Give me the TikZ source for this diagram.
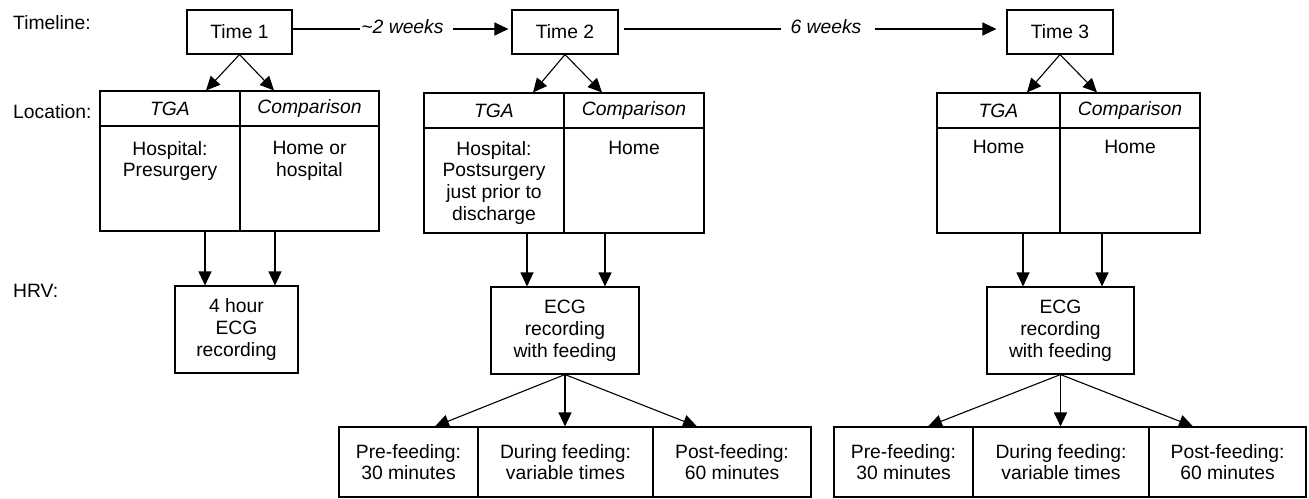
\documentclass[tikz,border=0pt]{standalone}
\usepackage{fontspec}
\setmainfont{Liberation Sans}
\usetikzlibrary{arrows.meta}
\newcommand\dfs{\fontsize{19.3pt}{21.8pt}\selectfont}
\tikzset{
  cell/.style={draw, line width=1.1pt, rectangle, inner sep=0pt, align=center, font=\dfs},
  txt/.style={inner sep=0pt, align=center, font=\dfs},
  arr/.style={line width=1.1pt, -{Triangle[length=14pt,width=13pt]}},
  ln/.style={line width=1.1pt},
}
\begin{document}
\begin{tikzpicture}[x=1pt,y=-1pt]
\useasboundingbox (0,0) rectangle (1309,498);
% row labels
\node[txt, anchor=base west] (lab1) at (13,29) {Timeline:};
\node[txt, anchor=base west] (lab2) at (13,118) {Location:};
\node[txt, anchor=base west] (lab3) at (13,297) {HRV:};
% time boxes
\node[cell, minimum width=105pt, minimum height=44pt] (t1) at (239.5,32) {Time 1};
\node[cell, minimum width=106pt, minimum height=44pt] (t2) at (565,32) {Time 2};
\node[cell, minimum width=106pt, minimum height=44pt] (t3) at (1060,32) {Time 3};
% timeline
\coordinate (tl) at (0,29);
\node[txt, anchor=base] (w1) at (402.5,33.5) {\itshape \textasciitilde 2 weeks};
\node[txt, anchor=base] (w2) at (826,33.5) {\itshape 6 weeks};
\draw[ln, shorten >=1pt] (t1.east |- tl) -- (w1.west |- tl);
\draw[arr, shorten <=9pt, shorten >=3pt] (w1.east |- tl) -- (t2.west |- tl);
\draw[ln, shorten <=5pt, shorten >=9pt] (t2.east |- tl) -- (w2.west |- tl);
\draw[arr, shorten <=13pt, shorten >=10pt] (w2.east |- tl) -- (t3.west |- tl);
% location 1
\node[cell, minimum width=140pt, minimum height=35pt] (l1ah) at (170,108.5) {\itshape TGA};
\node[cell, minimum width=139pt, minimum height=35pt] (l1bh) at (309.5,108.5) {\itshape Comparison};
\node[cell, minimum width=140pt, minimum height=105pt] (l1ab) at (170,178.5) {};
\node[cell, minimum width=139pt, minimum height=105pt] (l1bb) at (309.5,178.5) {};
\node[txt, anchor=north] (l1at) at (170,141) {Hospital:\\Presurgery};
\node[txt, anchor=north] (l1bt) at (309.5,141) {Home or\\hospital};
% location 2
\node[cell, minimum width=140pt, minimum height=35pt] (l2ah) at (494,110.5) {\itshape TGA};
\node[cell, minimum width=140pt, minimum height=35pt] (l2bh) at (634,110.5) {\itshape Comparison};
\node[cell, minimum width=140pt, minimum height=105pt] (l2ab) at (494,180.5) {};
\node[cell, minimum width=140pt, minimum height=105pt] (l2bb) at (634,180.5) {};
\node[txt, anchor=north] (l2at) at (494,141) {Hospital:\\Postsurgery\\just prior to\\discharge};
\node[txt, anchor=north] (l2bt) at (634,141) {Home};
% location 3
\node[cell, minimum width=123pt, minimum height=35pt] (l3ah) at (998.5,110.5) {\itshape TGA};
\node[cell, minimum width=140pt, minimum height=35pt] (l3bh) at (1130,110.5) {\itshape Comparison};
\node[cell, minimum width=123pt, minimum height=105pt] (l3ab) at (998.5,180.5) {};
\node[cell, minimum width=140pt, minimum height=105pt] (l3bb) at (1130,180.5) {};
\node[txt, anchor=north] (l3at) at (998.5,140) {Home};
\node[txt, anchor=north] (l3bt) at (1130,140) {Home};
% ECG boxes
\node[cell, minimum width=123pt, minimum height=87pt] (e1) at (236.5,329.5) {4 hour\\ECG\\recording};
\node[cell, minimum width=148pt, minimum height=87pt] (e2) at (565,330.5) {ECG\\recording\\with feeding};
\node[cell, minimum width=147pt, minimum height=87pt] (e3) at (1060.5,330.5) {ECG\\recording\\with feeding};
% bottom sets
\node[cell, minimum width=139pt, minimum height=70pt] (b2a) at (408.5,462) {Pre-feeding:\\30 minutes};
\node[cell, minimum width=175pt, minimum height=70pt] (b2b) at (565.5,462) {During feeding:\\variable times};
\node[cell, minimum width=158pt, minimum height=70pt] (b2c) at (732,462) {Post-feeding:\\60 minutes};
\node[cell, minimum width=139pt, minimum height=70pt] (b3a) at (903.5,462) {Pre-feeding:\\30 minutes};
\node[cell, minimum width=176pt, minimum height=70pt] (b3b) at (1061,462) {During feeding:\\variable times};
\node[cell, minimum width=157pt, minimum height=70pt] (b3c) at (1227.5,462) {Post-feeding:\\60 minutes};
% x positions of arrow ends
\coordinate (x1a) at (206,0);  \coordinate (x1b) at (274,0);
\coordinate (x2a) at (533,0);  \coordinate (x2b) at (602,0);
\coordinate (x3a) at (1027,0); \coordinate (x3b) at (1097,0);
\coordinate (d1a) at (205,0);  \coordinate (d1b) at (275,0);
\coordinate (d2a) at (527,0);  \coordinate (d2b) at (605,0);
\coordinate (d3a) at (1023,0); \coordinate (d3b) at (1102,0);
\coordinate (f2a) at (435,0);  \coordinate (f2c) at (697,0);
\coordinate (f3a) at (928,0);  \coordinate (f3c) at (1193,0);
% time -> location
\draw[arr] (t1.south) -- (l1ah.north -| x1a);
\draw[arr] (t1.south) -- (l1bh.north -| x1b);
\draw[arr] (t2.south) -- (l2ah.north -| x2a);
\draw[arr] (t2.south) -- (l2bh.north -| x2b);
\draw[arr] (t3.south) -- (l3ah.north -| x3a);
\draw[arr] (t3.south) -- (l3bh.north -| x3b);
% location -> ECG
\draw[arr] (l1ab.south -| d1a) -- (e1.north -| d1a);
\draw[arr] (l1bb.south -| d1b) -- (e1.north -| d1b);
\draw[arr] (l2ab.south -| d2a) -- (e2.north -| d2a);
\draw[arr] (l2bb.south -| d2b) -- (e2.north -| d2b);
\draw[arr] (l3ab.south -| d3a) -- (e3.north -| d3a);
\draw[arr] (l3bb.south -| d3b) -- (e3.north -| d3b);
% ECG -> phases
\draw[arr] (e2.south) -- (b2a.north -| f2a);
\draw[arr] (e2.south) -- (b2b.north -| e2.south);
\draw[arr] (e2.south) -- (b2c.north -| f2c);
\draw[arr] (e3.south) -- (b3a.north -| f3a);
\draw[arr] (e3.south) -- (b3b.north -| e3.south);
\draw[arr] (e3.south) -- (b3c.north -| f3c);
\end{tikzpicture}
\end{document}
